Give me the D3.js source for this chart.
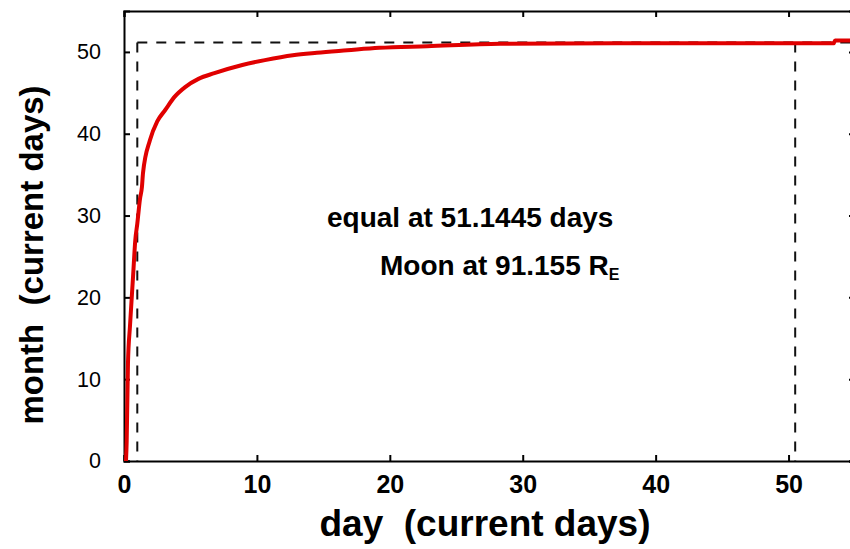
<!DOCTYPE html>
<html>
<head>
<meta charset="utf-8">
<script src="https://cdn.jsdelivr.net/npm/d3@7"></script>
<style>
  body { margin: 0; background: #fff; }
  svg { display: block; font-family: Arial, "Liberation Sans", sans-serif; }
  .axis path, .axis line { stroke: #000; stroke-width: 2; }
  .axis text { fill: #000; }
</style>
</head>
<body>
<div id="chart"></div>
<script>
// data (day, month) in current days
const dayVals   = [0.15, 0.2, 0.3, 0.45, 0.68, 0.85, 1.0, 1.2, 1.35, 1.43, 1.95, 2.5, 3.1, 3.8, 4.6, 5.6, 6.8, 8.9, 10.6, 12.7, 14.5, 16.8, 19.2, 22.8, 28.3, 37, 53.4, 53.5, 55];
const monthVals = [0, 2.3, 12, 16.5, 22.5, 27, 29, 32, 33.5, 35.2, 39.2, 41.5, 42.9, 44.5, 45.7, 46.7, 47.4, 48.4, 49.0, 49.6, 49.9, 50.2, 50.5, 50.7, 51.0, 51.05, 51.05, 51.4, 51.4];
const xTicks = [0, 10, 20, 30, 40, 50];
const yTicks = [0, 10, 20, 30, 40, 50];
const equalMonth = 51.1445;
const startDay = 1;
const equalDay = 50.5;
const noteLines = ["equal at 51.1445 days", "Moon at 91.155 R"];

const W = 850, H = 549;
const MARGIN = { top: 11, left: 124, right: -5, bottom: 88 };
const width = W - MARGIN.left - MARGIN.right;
const height = H - MARGIN.top - MARGIN.bottom;

const svg = d3.select('#chart').append('svg').attr('width', W).attr('height', H);
const g = svg.append('g').attr('transform', `translate(${MARGIN.left},${MARGIN.top})`);

const x = d3.scaleLinear().domain([0, 55]).range([0, width]);
const y = d3.scaleLinear().domain([0, 55]).range([height, 0]);

// axes, ticks pointing inward, mirrored on top / right
g.append('g').attr('class', 'axis').attr('transform', `translate(0,${height})`)
  .call(d3.axisBottom(x).tickValues(xTicks).tickSize(-6).tickPadding(14).tickFormat(d3.format('d')))
  .call(a => a.selectAll('text').attr('font-size', 25).attr('font-weight', 'bold'));
g.append('g').attr('class', 'axis')
  .call(d3.axisTop(x).tickValues(xTicks).tickSize(-6).tickFormat(''));
g.append('g').attr('class', 'axis')
  .call(d3.axisLeft(y).tickValues(yTicks).tickSize(-6).tickPadding(23).tickFormat(d3.format('d')))
  .call(a => a.selectAll('text').attr('font-size', 21.5));
g.append('g').attr('class', 'axis').attr('transform', `translate(${width},0)`)
  .call(d3.axisRight(y).tickValues(yTicks).tickSize(-6).tickFormat(''));
g.selectAll('.axis .domain').attr('fill', 'none');

// dashed guides
const dash = g.append('g').attr('stroke', '#111').attr('stroke-width', 2).attr('stroke-dasharray', '10,9').attr('fill', 'none');
dash.append('line').attr('x1', x(startDay)).attr('x2', width).attr('y1', y(equalMonth)).attr('y2', y(equalMonth));
dash.append('line').attr('x1', x(startDay)).attr('x2', x(startDay)).attr('y1', y(equalMonth)).attr('y2', height);
dash.append('line').attr('x1', x(equalDay)).attr('x2', x(equalDay)).attr('y1', y(equalMonth)).attr('y2', height);

// curve
const pts = dayVals.map((d, i) => [d, monthVals[i]]);
g.append('path').datum(pts)
  .attr('fill', 'none').attr('stroke', '#e00000').attr('stroke-width', 4).attr('stroke-linejoin', 'round')
  .attr('d', d3.line().x(d => x(d[0])).y(d => y(d[1])).curve(d3.curveMonotoneX));

// annotation
svg.append('text').attr('x', 327).attr('y', 227).attr('font-size', 28).attr('font-weight', 'bold').text(noteLines[0]);
const t2 = svg.append('text').attr('x', 380).attr('y', 275).attr('font-size', 28).attr('font-weight', 'bold').text(noteLines[1]);
t2.append('tspan').attr('font-size', 16).attr('dy', 5).text('E');

// axis titles
svg.append('text').attr('x', 485).attr('y', 536).attr('text-anchor', 'middle')
  .attr('font-size', 37).attr('font-weight', 'bold').attr('xml:space', 'preserve').text('day  (current days)');
svg.append('text').attr('transform', 'translate(43,255) rotate(-90)').attr('text-anchor', 'middle')
  .attr('font-size', 33).attr('font-weight', 'bold').attr('xml:space', 'preserve').text('month  (current days)');
</script>
</body>
</html>
